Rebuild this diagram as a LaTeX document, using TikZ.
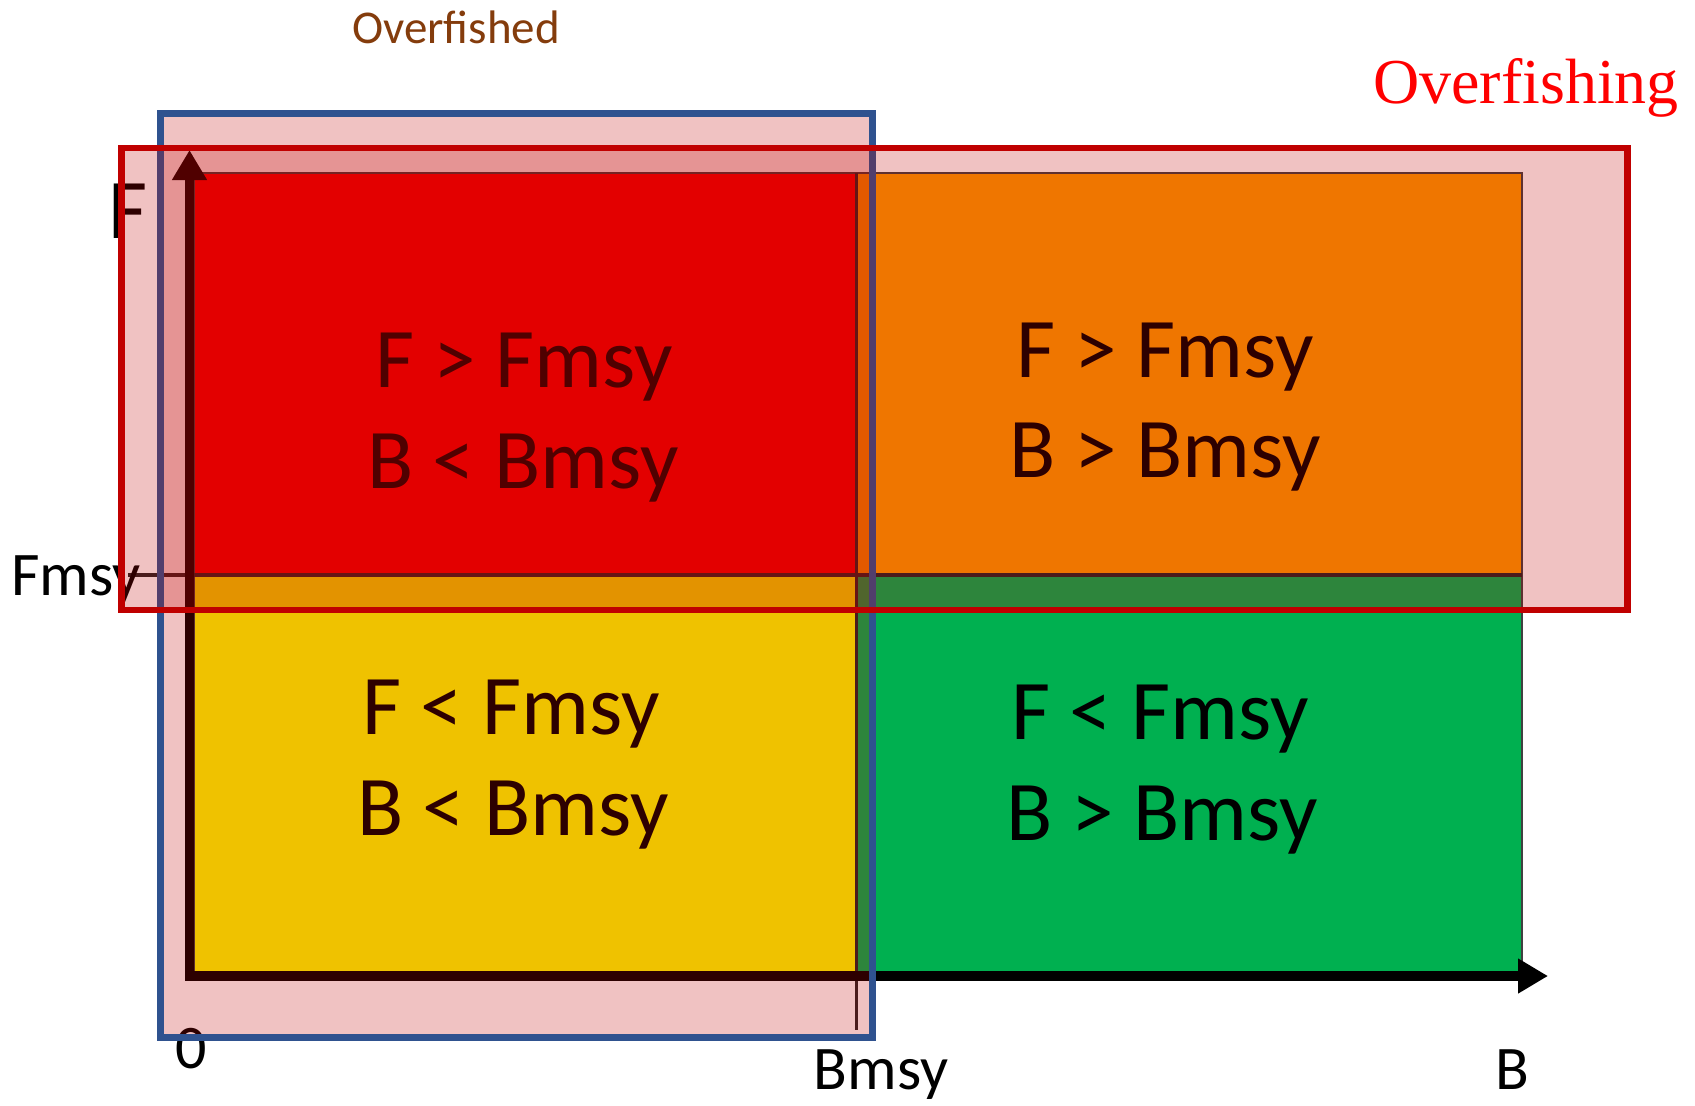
\documentclass[tikz,border=0pt]{standalone}
\usepackage{fontspec}
\setmainfont{Carlito}
\newfontfamily\timesf{Liberation Serif}
\usetikzlibrary{arrows.meta}
\definecolor{qred}{HTML}{FF0000}
\definecolor{qorange}{HTML}{FF9C00}
\definecolor{qyellow}{HTML}{FFFF00}
\definecolor{qgreen}{HTML}{00B050}
\definecolor{ovred}{HTML}{C00000}
\definecolor{ovblue}{HTML}{2F528F}
\definecolor{brownt}{HTML}{843C0C}
\definecolor{redt}{HTML}{FF0000}
\begin{document}
\begin{tikzpicture}[x=0.5pt,y=-0.5pt,
  quad/.style={draw=black!75, line width=1pt},
  big/.style={font=\fontsize{42.5pt}{50pt}\selectfont, inner sep=0pt, anchor=base},
  lab/.style={font=\fontsize{31pt}{37pt}\selectfont, inner sep=0pt, anchor=base},
  pinkzone/.style={fill=ovred, fill opacity=0.24},
  axisline/.style={line width=4.75pt, line join=miter,
    {Triangle[width=16.5pt,length=15pt]}-{Triangle[width=16.5pt,length=15pt]}}
]
\useasboundingbox (0,0) rectangle (1695,1105);
% quadrants
\draw[quad, fill=qred] (194,173) rectangle (857,575);
\draw[quad, fill=qorange] (857,173) rectangle (1522,575);
\draw[quad, fill=qyellow] (194,575) rectangle (857,973);
\draw[quad, fill=qgreen] (857,575) rectangle (1522,973);
% reference lines
\coordinate (fmsyL) at (128,575);
\coordinate (fmsyR) at (1522,575);
\coordinate (bmsyT) at (856,173);
\coordinate (bmsyB) at (856,1030);
\draw[line width=2pt, black!85] (fmsyL) -- (fmsyR);
\draw[line width=1.5pt, black!85] (bmsyT) -- (bmsyB);
% quadrant texts
\node[big] (rq1) at (524,387) {F > Fmsy};
\node[big] (rq2) at (523,488) {B < Bmsy};
\node[big] (oq1) at (1165,377) {F > Fmsy};
\node[big] (oq2) at (1165,477) {B > Bmsy};
\node[big] (yq1) at (511,734) {F < Fmsy};
\node[big] (yq2) at (513,835) {B < Bmsy};
\node[big] (gq1) at (1160,739) {F < Fmsy};
\node[big] (gq2) at (1162,840) {B > Bmsy};
% axes
\coordinate (origin) at (189.5,976);
\coordinate (yend) at (189.5,150);
\coordinate (xend) at (1548,976);
\draw[axisline] (yend) -- (origin) -- (xend);
% axis labels
\node[big] (flab) at (128,238) {F};
\node[lab] (fmsylab) at (76,595) {Fmsy};
\node[lab] (zerolab) at (191,1068) {0};
\node[lab] (bmsylab) at (881,1089) {Bmsy};
\node[lab] (blab) at (1512,1089) {B};
% overlay zones
\draw[pinkzone, draw=ovblue, line width=3.5pt] (160.5,113) rectangle (872.5,1037.5);
\draw[pinkzone, draw=ovred, line width=3.25pt] (121.5,148) rectangle (1627.5,610);
% titles
\node[font=\fontsize{23.5pt}{28pt}\selectfont, text=brownt, inner sep=0pt, anchor=base] (overfished) at (456,43) {Overfished};
\node[font=\timesf\fontsize{32pt}{38pt}\selectfont, text=redt, inner sep=0pt, anchor=base] (overfishing) at (1526,103) {Overfishing};
\end{tikzpicture}
\end{document}
